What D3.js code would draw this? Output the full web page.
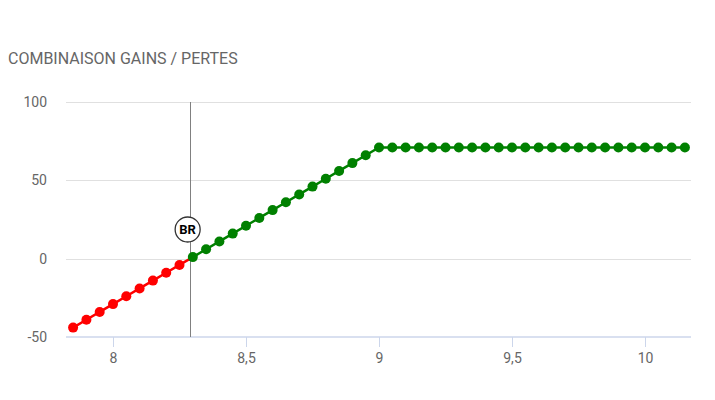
<!DOCTYPE html>
<html><head><meta charset="utf-8">
<script src="https://cdn.jsdelivr.net/npm/d3@7"></script>
<style>body{margin:0;background:#fff;font-family:Roboto,"Open Sans",sans-serif;}</style>
</head><body><svg id="c" width="715" height="400"></svg>
<script>
const title = "COMBINAISON GAINS / PERTES";
const xs = [7.85,7.9,7.95,8,8.05,8.1,8.15,8.2,8.25,8.3,8.35,8.4,8.45,8.5,8.55,8.6,8.65,8.7,8.75,8.8,8.85,8.9,8.95,9,
  9.05,9.1,9.15,9.2,9.25,9.3,9.35,9.4,9.45,9.5,9.55,9.6,9.65,9.7,9.75,9.8,9.85,9.9,9.95,10,10.05,10.1,10.15];
const values = [-44,-39,-34,-29,-24,-19,-14,-9,-4,1,6,11,16,21,26,31,36,41,46,51,56,61,66,71,
  71,71,71,71,71,71,71,71,71,71,71,71,71,71,71,71,71,71,71,71,71,71,71];
const xTicks = [8,8.5,9,9.5,10];
const yTicks = [-50,0,50,100];
const breakEven = 8.29;
const breakLabel = "BR";

const svg = d3.select("#c");
const L=66,R=691,T=102,B=337;
const x = d3.scaleLinear().domain([7.8233,10.1729]).range([L,R]);
const y = d3.scaleLinear().domain([-50,100]).range([B,T]);
const fmt = d => String(d).replace(".",",");

svg.append("text").attr("x",8).attr("y",64).attr("fill","#666").attr("font-size",16).text(title);

// grid
svg.append("g").selectAll("line").data(yTicks.filter(d=>d!==-50)).join("line")
  .attr("x1",L).attr("x2",R).attr("y1",d=>Math.round(y(d))+0.5).attr("y2",d=>Math.round(y(d))+0.5)
  .attr("stroke","#e0e0e0").attr("stroke-width",1);
svg.append("g").selectAll("text").data(yTicks).join("text")
  .attr("x",47).attr("y",d=>y(d)+5).attr("text-anchor","end").attr("fill","#666").attr("font-size",14).text(d=>d);

// x axis
const xa = svg.append("g").attr("transform",`translate(0,${B})`)
  .call(d3.axisBottom(x).tickValues(xTicks).tickFormat(fmt).tickSize(10).tickPadding(6));
xa.select(".domain").attr("stroke","#ccd6eb").attr("stroke-width",1.5).attr("d",`M${L},0H${R}`);
xa.selectAll(".tick line").attr("stroke","#ccd6eb");
xa.selectAll(".tick text").attr("fill","#666").attr("font-size",14).attr("font-family","Roboto");

// clip zones
const defs = svg.append("defs");
defs.append("clipPath").attr("id","neg").append("rect").attr("x",0).attr("y",y(0)).attr("width",715).attr("height",400);
defs.append("clipPath").attr("id","pos").append("rect").attr("x",0).attr("y",0).attr("width",715).attr("height",y(0));

const data = xs.map((d,i)=>({x:d,v:values[i]}));
const line = d3.line().x(d=>x(d.x)).y(d=>y(d.v));
[["neg","#ff0000"],["pos","#008000"]].forEach(([id,c])=>{
  svg.append("path").datum(data).attr("d",line).attr("fill","none").attr("stroke",c)
    .attr("stroke-width",2.5).attr("clip-path",`url(#${id})`);
});

// break-even line
svg.append("line").attr("x1",Math.round(x(breakEven))+0.5).attr("x2",Math.round(x(breakEven))+0.5)
  .attr("y1",T).attr("y2",B).attr("stroke","#808080").attr("stroke-width",1);

svg.append("g").selectAll("circle").data(data).join("circle")
  .attr("cx",d=>x(d.x)).attr("cy",d=>y(d.v)).attr("r",5)
  .attr("fill",d=>d.v<0?"#ff0000":"#008000");

// BR label
const bx = x(breakEven)-2.5, by = 229.5;
svg.append("circle").attr("cx",bx).attr("cy",by).attr("r",12.5).attr("fill","#fff").attr("stroke","#333").attr("stroke-width",1.3);
svg.append("text").attr("x",bx).attr("y",by+4.5).attr("text-anchor","middle").attr("font-weight","bold")
  .attr("font-size",13).attr("fill","#000").text(breakLabel);
</script></body></html>
